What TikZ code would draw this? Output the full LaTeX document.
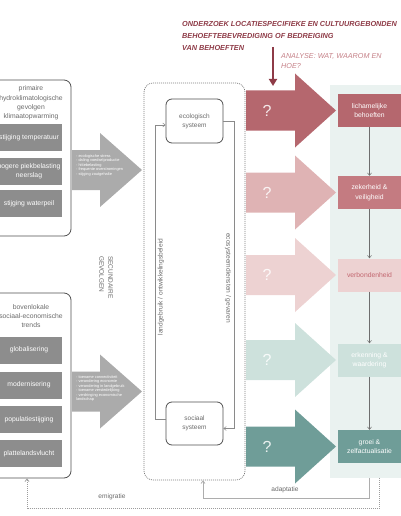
\documentclass[tikz,border=0pt]{standalone}
\usepackage{fontspec}
\setmainfont{Liberation Sans}
\usetikzlibrary{arrows.meta,positioning,calc}
\definecolor{titelrood}{HTML}{8E3B47}
\definecolor{analyserood}{HTML}{C47F86}
\definecolor{kadergrijs}{HTML}{4F4F4F}
\definecolor{blokgrijs}{HTML}{8D8D8D}
\definecolor{pijlgrijs}{HTML}{ABABAB}
\definecolor{tekstgrijs}{HTML}{6A6A6A}
\definecolor{lijngrijs}{HTML}{8A8A8A}
\definecolor{bga}{HTML}{B5676E}
\definecolor{bgb}{HTML}{DFB3B4}
\definecolor{bgc}{HTML}{EDD2D2}
\definecolor{bgd}{HTML}{CDE1DC}
\definecolor{bge}{HTML}{6F9D98}
\definecolor{behb}{HTML}{C47B81}
\definecolor{verbrood}{HTML}{C2666F}
\definecolor{paneel}{HTML}{EAF2F0}
\tikzset{
  kader/.style={draw=kadergrijs,line width=0.8pt,rounded corners=7pt,minimum width=82pt,inner sep=0pt},
  kop/.style={text=tekstgrijs,align=center,font=\fontsize{6.8}{9.2}\selectfont,inner sep=0pt},
  trend/.style={fill=blokgrijs,text=white,minimum width=66pt,minimum height=27pt,align=center,inner sep=0pt,font=\fontsize{6.8}{9}\selectfont},
  pijltekst/.style={text=white,align=left,anchor=north west,inner sep=0pt,font=\fontsize{3.9}{4.5}\selectfont},
  systeem/.style={draw=kadergrijs,line width=0.8pt,rounded corners=6pt,minimum width=57pt,minimum height=44pt,align=center,text=tekstgrijs,font=\fontsize{6.5}{9}\selectfont},
  lus/.style={draw=lijngrijs,line width=0.5pt,-{Straight Barb[length=2.5pt,width=4pt]}},
  lustekst/.style={text=tekstgrijs,font=\fontsize{6.6}{8}\selectfont,inner sep=0pt},
  behoefte/.style={minimum width=63pt,minimum height=33pt,align=center,inner sep=0pt,font=\fontsize{6.8}{9.5}\selectfont},
  stap/.style={draw=lijngrijs!80!black,line width=0.5pt,-{Straight Barb[length=2.5pt,width=4pt]}},
  vraag/.style={text=white,opacity=0.85,font=\fontsize{16}{16}\selectfont},
  terug/.style={draw=lijngrijs!70,line width=0.8pt,-{Straight Barb[length=2.5pt,width=4pt]}},
  emi/.style={terug,draw=lijngrijs!85,dash pattern=on 1pt off 1pt}
}
\begin{document}
\begin{tikzpicture}[x=1pt,y=-1pt]
\useasboundingbox (0,0) rectangle (400,516);
% onderzoeksvraag
\node[anchor=north west,inner sep=0pt,align=left,text=titelrood,font=\fontsize{7.3}{11.8}\selectfont\bfseries\itshape] (titel) at (182,21.5) {ONDERZOEK LOCATIESPECIFIEKE EN CULTUURGEBONDEN\\BEHOEFTEBEVREDIGING OF BEDREIGING\\VAN BEHOEFTEN};
\node[anchor=north west,inner sep=0pt,align=left,text=analyserood,font=\fontsize{7.2}{10}\selectfont\itshape] (analyse) at (281,53) {ANALYSE: WAT, WAAROM EN\\HOE?};
\coordinate (onderzoek) at (273,47);
\coordinate (analysepunt) at (273,86);
\draw[titelrood,line width=2.5pt,-{Triangle[length=7pt,width=8pt]}] (onderzoek) -- (analysepunt);
% linkerkolom
\node[kader,minimum height=156pt] (klimaat) at (30,158) {};
\node[kop] (klimaatkop) at (31,103) {primaire\\hydroklimatologische\\gevolgen\\klimaatopwarming};
\foreach \yy/\n/\tekst in {137.5/k1/{stijging temperatuur},171.5/k2/{hogere piekbelasting\\neerslag},203.5/k3/{stijging waterpeil}}{\node[trend] (\n) at (29,\yy) {\tekst};}
\node[kader,minimum height=185pt] (trends) at (30,385.5) {};
\node[kop] (trendkop) at (31,316) {bovenlokale\\sociaal-economische\\trends};
\foreach \yy/\n/\tekst in {350/t1/globalisering,385/t2/modernisering,419.5/t3/populatiestijging,453.5/t4/plattelandsvlucht}{\node[trend] (\n) at (29,\yy) {\tekst};}
% grijze pijlen
\foreach \yy in {170,391.5}{\fill[pijlgrijs] (72,\yy-20) -- (100,\yy-20) -- (100,\yy-37) -- (142,\yy) -- (100,\yy+37) -- (100,\yy+20) -- (72,\yy+20) -- cycle;}
\node[pijltekst] (klimaatgevolg) at (76,154) {- ecologische stress\\- daling voedselproductie\\- hittebelasting\\- frequente overstromingen\\- stijging zoutgehalte};
\node[pijltekst] (trendgevolg) at (76,375) {- toename connectiviteit\\- verandering economie\\- verandering in landgebruik\\- toename verstedelijking\\- verdringing economische\\landschap};
\node[rotate=-90,anchor=north west,inner sep=0pt,align=left,text=tekstgrijs,font=\fontsize{6.5}{9}\selectfont] (secundair) at (113,256) {SECUNDAIRE\\GEVOLGEN};
% systemen
\node[draw=lijngrijs!90!black,dash pattern=on 1pt off 1pt,line width=0.7pt,rounded corners=9pt,minimum width=101pt,minimum height=397pt] (midden) at (194.5,281.5) {};
\node[systeem] (eco) at (194.5,121) {ecologisch\\systeem};
\node[systeem,minimum height=43pt] (sociaal) at (194.5,423.5) {sociaal\\systeem};
\draw[lus] ([yshift=4pt]sociaal.west) -- ++(-10,0) |- ([yshift=-4pt]eco.west);
\draw[lus] (eco.east) -- ++(11,0) |- ([yshift=-5pt]sociaal.east);
\node[lustekst,rotate=90] (landgebruik) at (161,287) {landgebruik / ontwikkelingsbeleid};
\node[lustekst,rotate=-90] (diensten) at (228,278) {ecosysteemdiensten / gevaren};
% behoeften
\node[fill=paneel,minimum width=80pt,minimum height=393pt,inner sep=0pt,anchor=north west] (paneel) at (330,85) {};
\foreach \yy/\kl in {110.5/bga,192.5/bgb,275/bgc,360/bgd,446.5/bge}{
  \fill[\kl] (246,\yy-20) -- (295,\yy-20) -- (295,\yy-37) -- (336,\yy) -- (295,\yy+37) -- (295,\yy+20) -- (246,\yy+20) -- cycle;
  \node[vraag] at (267,\yy) {?};
}
\foreach \i/\yy/\kl/\tk/\tekst in {1/110.5/bga/white/{lichamelijke\\behoeften},2/192.5/behb/white/{zekerheid \&\\veiligheid},3/275/bgc/verbrood/{verbondenheid},4/360/bgd/white/{erkenning \&\\waardering},5/446.5/bge/white/{groei \&\\zelfactualisatie}}{\node[behoefte,fill=\kl,text=\tk] (b\i) at (369.5,\yy) {\tekst};}
\foreach \i/\j in {1/2,2/3,3/4,4/5}{\draw[stap] (b\i) -- (b\j);}
% terugkoppeling
\draw[terug] (paneel.south -| b5) -- ++(0,20) -| ([xshift=8.5pt]midden.south);
\node[lustekst] (adaptatie) at (285,490) {adaptatie};
\draw[emi] ($(paneel.south -| b5)+(10,0)$) -- ++(0,30) -| ([xshift=-3pt]trends.south);
\node[lustekst] (emigratie) at (112,497) {emigratie};
\end{tikzpicture}
\end{document}
